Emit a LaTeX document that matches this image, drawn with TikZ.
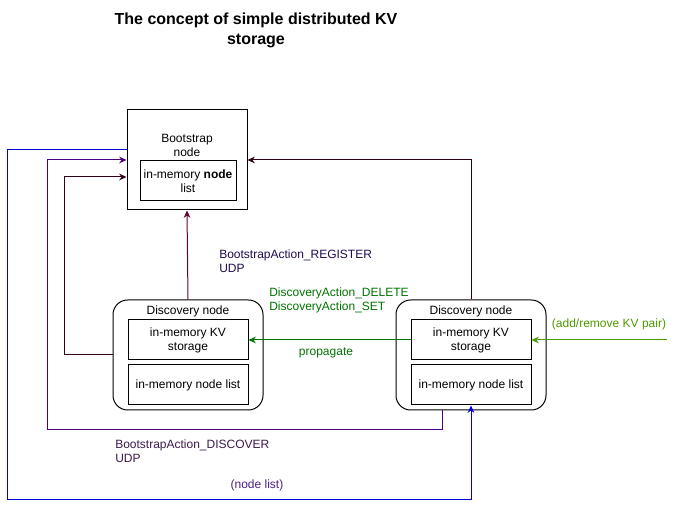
\documentclass[tikz,border=0pt]{standalone}
\usepackage{fontspec}
\setmainfont{Liberation Sans}
\usetikzlibrary{arrows.meta}
\definecolor{regline}{HTML}{660033}
\definecolor{darkpurp}{HTML}{33001A}
\definecolor{discline}{HTML}{4C0080}
\definecolor{bluline}{HTML}{0000DD}
\definecolor{propgreen}{HTML}{007300}
\definecolor{kvgreen}{HTML}{4D9900}
\definecolor{reglabel}{HTML}{1F0A4D}
\definecolor{disclabel}{HTML}{3D1A4D}
\definecolor{listlabel}{HTML}{4C2080}
\begin{document}
\begin{tikzpicture}[x=0.75pt, y=-0.75pt,
	every node/.style={font=\fontsize{9}{10.5}\selectfont},
	box/.style={rectangle, draw=black, line width=0.75pt, align=center, inner sep=1pt},
	roundbox/.style={rectangle, rounded corners=11pt, draw=black, line width=0.75pt, minimum width=112.5pt, minimum height=82.5pt},
	lbl/.style={anchor=west, align=left, inner sep=0pt},
	arr/.style={-{Stealth[length=5.5pt,width=5pt]}, line width=0.75pt}]
	\useasboundingbox (0,0) rectangle (676,509);

	\node[font=\fontsize{12}{15}\selectfont\bfseries, align=center](title) at (256,30){The concept of simple distributed KV\\storage};

	\node[box, minimum width=90pt, minimum height=75pt](boot) at (187,160){};
	\node[inner sep=0pt, align=center](boottxt) at (187,145){Bootstrap\\node};
	\node[box, minimum width=72pt, minimum height=30pt](bootlist) at (188,181){in-memory \textbf{node}\\list};

	\node[roundbox](ldisc) at (188,355){};
	\node[inner sep=0pt](ldisctxt) at (188,311){Discovery node};
	\node[box, minimum width=90pt, minimum height=30pt](lkv) at (188,340){in-memory KV\\storage};
	\node[box, minimum width=90pt, minimum height=30pt](lnl) at (188,385){in-memory node list};

	\node[roundbox](rdisc) at (471,355){};
	\node[inner sep=0pt](rdisctxt) at (471,311){Discovery node};
	\node[box, minimum width=90pt, minimum height=30pt](rkv) at (471,340){in-memory KV\\storage};
	\node[box, minimum width=90pt, minimum height=30pt](rnl) at (471,385){in-memory node list};

	\coordinate (kvin) at (667,340);

	% bootstrap connections
	\draw[arr, color=regline] (ldisc.north) -- (boot.south);
	\draw[arr, color=darkpurp] (rdisc.north) |- (boot.east);
	\draw[arr, color=darkpurp] (ldisc.west) -- ++(-48,0) |- (boot.west |- 0,177);
	\draw[arr, color=discline] (rdisc.south -| 442,0) -- (442,430) -- (47,430) |- (boot.west);
	\draw[arr, color=bluline] (boot.west |- 0,150) -- (7,150) -- (7,500) -| (rnl.south);

	% kv propagation
	\draw[arr, color=propgreen] (rkv.west) -- (lkv.east);
	\draw[arr, color=kvgreen] (kvin) -- (rkv.east);

	\node[lbl, text=reglabel](reglbl) at (219,261){BootstrapAction\_REGISTER\\UDP};
	\node[lbl, text=propgreen](actlbl) at (269,300){DiscoveryAction\_DELETE\\DiscoveryAction\_SET};
	\node[text=propgreen, inner sep=0pt](proplbl) at (326,353){propagate};
	\node[text=kvgreen, inner sep=0pt](kvlbl) at (609,324){(add/remove KV pair)};
	\node[lbl, text=disclabel](disclbl) at (115,451){BootstrapAction\_DISCOVER\\UDP};
	\node[text=listlabel, inner sep=0pt](listlbl) at (257,485){(node list)};
\end{tikzpicture}
\end{document}
